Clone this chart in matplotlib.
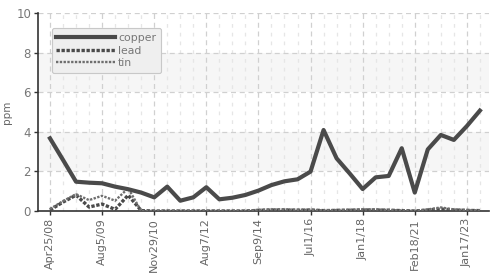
import matplotlib
matplotlib.use("Agg")
import matplotlib.pyplot as plt
import numpy as np

copper = [3.67, 2.58, 1.48, 1.43, 1.40, 1.23, 1.10, 0.93, 0.69, 1.23,
          0.52, 0.69, 1.20, 0.59, 0.67, 0.81, 1.03, 1.31, 1.50, 1.60,
          1.99, 4.09, 2.66, 1.90, 1.11, 1.70, 1.77, 3.17, 0.93, 3.11,
          3.84, 3.59, 4.29, 5.07]
lead = [0.05, 0.45, 0.80, 0.20, 0.35, 0.08, 0.80, 0.02, 0.0, 0.0,
        0.0, 0.0, 0.0, 0.0, 0.0, 0.0, 0.03, 0.05, 0.05, 0.04,
        0.05, 0.02, 0.03, 0.04, 0.05, 0.05, 0.04, 0.02, 0.0, 0.05,
        0.10, 0.05, 0.03, 0.02]
tin = [0.10, 0.50, 0.85, 0.55, 0.77, 0.52, 1.15, 0.0, 0.0, 0.0,
       0.0, 0.0, 0.0, 0.0, 0.0, 0.0, 0.06, 0.08, 0.08, 0.06,
       0.06, 0.03, 0.05, 0.06, 0.08, 0.08, 0.05, 0.03, 0.0, 0.08,
       0.18, 0.08, 0.05, 0.03]
tick_labels = ["Apr25/08", "Aug5/09", "Nov29/10", "Aug7/12", "Sep9/14",
               "Jul1/16", "Jan1/18", "Feb18/21", "Jan17/23"]
tick_every = 4

font = ["Liberation Sans Narrow", "DejaVu Sans"]
plt.rcParams['font.family'] = font

fig = plt.figure(figsize=(4.9, 2.74), dpi=100)
ax = fig.add_axes([38/490, 1-211/274, 1-38/490-0.002, (211-13)/274])

x = np.arange(len(copper))
ax.set_xlim(-0.92, len(copper) - 0.3)
ax.set_ylim(0, 10)

# background bands
for lo, hi in [(2, 4), (6, 8)]:
    ax.axhspan(lo, hi, color="#f6f6f6", zorder=0, lw=0)

# grids
for xi in x:
    major = (xi % tick_every == 0)
    ax.axvline(xi, color="#d0d0d0" if major else "#e6e6e6", lw=0.9,
               ls=(0, (4, 3)) if major else (0, (3, 4)), zorder=1)
for yv in [2, 4, 6, 8, 10]:
    ax.axhline(yv, color="#d0d0d0", lw=0.9, ls=(0, (4, 3)), zorder=1)

ax.plot(x, copper, color="#4a4a4a", lw=3.0, solid_joinstyle="round", zorder=4, label="copper")
ax.plot(x, lead, color="#4a4a4a", lw=2.4, ls=(0, (1, 0.5)), zorder=3, label="lead")
ax.plot(x, tin, color="#6e6e6e", lw=1.7, ls=(0, (1, 0.6)), zorder=3, label="tin")

ax.set_xticks(x[::tick_every])
ax.set_xticklabels(tick_labels, rotation=90, fontsize=8, color="#666666")
ax.set_yticks([0, 2, 4, 6, 8, 10])
ax.set_yticklabels(["0", "2", "4", "6", "8", "10"], fontsize=8.5, color="#777777")
ax.tick_params(axis="both", length=3, width=1, color="#333333", pad=2)
ax.set_ylabel("ppm", fontsize=7.5, color="#666666")
ax.yaxis.set_label_coords(-0.057, 0.5)

for s in ["top", "right"]:
    ax.spines[s].set_visible(False)
for s in ["left", "bottom"]:
    ax.spines[s].set_color("#333333")
    ax.spines[s].set_linewidth(1.2)
ax.set_facecolor("white")

leg = ax.legend(loc="upper left", bbox_to_anchor=(0.018, 0.95), fontsize=7.8,
                handlelength=5.4, handletextpad=0.3, labelspacing=0.22,
                borderpad=0.45, frameon=True, fancybox=True, labelcolor="#777777")
fr = leg.get_frame()
fr.set_facecolor("#efefef")
fr.set_edgecolor("#c8c8c8")
fr.set_alpha(1)
fr.set_linewidth(0.8)

fig.savefig("out.png", dpi=100)
